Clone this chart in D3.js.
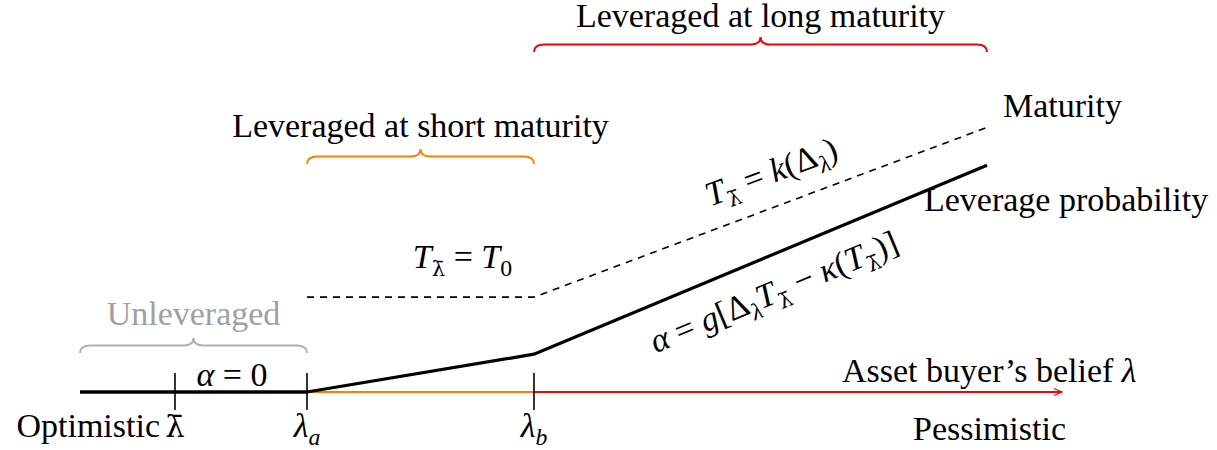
<!DOCTYPE html>
<html><head><meta charset="utf-8"><script src="https://cdn.jsdelivr.net/npm/d3@7"></script></head>
<body style="margin:0">
<svg id="chart" width="1217" height="450"></svg>
<script>
// ── DATA ─────────────────────────────────────────────────────────────────────
// belief axis (x) runs from optimistic (left) to pessimistic (right)
const axisStart = 0;
const tickValues = [0.95, 2.27, 4.54];
const tickLabels = [
  [{ t: 'λ̄', bar: true }],
  [{ t: 'λ', i: true }, { t: 'a', i: true, sub: true }],
  [{ t: 'λ', i: true }, { t: 'b', i: true, sub: true }]
];

// axis segments coloured by regime
const segmentFrom = [0, 2.27, 4.54];
const segmentTo = [2.27, 4.54, 9.82];
const segmentColors = ['#000', '#ff8000', '#ff0000'];

// leverage probability α (solid) and maturity T (dashed)
const leverageX = [0, 2.27, 4.54, 9.07];
const leverageY = [0, 0, 0.10, 0.60];
const maturityX = [2.27, 4.54, 9.07];
const maturityY = [0.251, 0.251, 0.70];

// regimes shown with braces
const regimeNames = ['Unleveraged', 'Leveraged at short maturity', 'Leveraged at long maturity'];
const regimeFrom = [0, 2.27, 4.54];
const regimeTo = [2.27, 4.54, 9.07];
const regimeColors = ['#b0b0b0', '#ff8000', '#ff0000'];

// ── SETUP ────────────────────────────────────────────────────────────────────
const svg = d3.select('#chart');
const FONT = '"Liberation Serif"';
const BAR_FONT = '"DejaVu Serif"';
const FS = 34;

const x = d3.scaleLinear().domain([0, 9.8]).range([80, 1060]);
const y = d3.scaleLinear().domain([0, 1]).range([392, 14]);

// writes a little math expression as tspans (italic, subscripts, barred lambda)
function mathText(sel, parts) {
  sel.attr('font-size', FS).style('font-family', FONT);
  let shift = 0;
  parts.forEach(p => {
    const target = p.sub ? 8 : 0;
    const ts = sel.append('tspan');
    if (target - shift !== 0) ts.attr('dy', target - shift);
    if (p.sub || p.bar) ts.attr('font-size', p.bar ? (p.sub ? FS * 0.62 : FS * 0.9) : FS * 0.7);
    if (p.bar) ts.style('font-family', BAR_FONT);
    if (p.i) ts.style('font-style', 'italic');
    ts.text(p.t);
    shift = target;
  });
  return sel;
}

// curly brace pointing up, from px x0 to x1 with ends at py
function bracePath(x0, x1, py) {
  const a = 15, h = a / 2, r = 10, m = (x0 + x1) / 2;
  return `M${x0},${py} Q${x0},${py - h} ${x0 + r},${py - h}` +
    ` L${m - r},${py - h} Q${m},${py - h} ${m},${py - a}` +
    ` Q${m},${py - h} ${m + r},${py - h}` +
    ` L${x1 - r},${py - h} Q${x1},${py - h} ${x1},${py}`;
}

// ── AXIS ─────────────────────────────────────────────────────────────────────
svg.append('defs').append('marker')
  .attr('id', 'arrow').attr('viewBox', '0 0 10 10')
  .attr('refX', 9).attr('refY', 5)
  .attr('markerWidth', 5).attr('markerHeight', 5)
  .attr('markerUnits', 'strokeWidth').attr('orient', 'auto')
  .append('path').attr('d', 'M1,1.5 L9,5 L1,8.5')
  .attr('fill', 'none').attr('stroke', '#ff0000').attr('stroke-width', 1.1);

svg.append('g').selectAll('line')
  .data(segmentFrom)
  .join('line')
  .attr('x1', d => x(d))
  .attr('x2', (d, i) => x(segmentTo[i]))
  .attr('y1', y(0)).attr('y2', y(0))
  .attr('stroke', (d, i) => segmentColors[i])
  .attr('stroke-width', (d, i) => i === 0 ? 3 : 2)
  .attr('marker-end', (d, i) => i === 2 ? 'url(#arrow)' : null);

// ── CURVES ───────────────────────────────────────────────────────────────────
const line = d3.line().x(d => x(d[0])).y(d => y(d[1]));

svg.append('path')
  .attr('d', line(maturityX.map((v, i) => [v, maturityY[i]])))
  .attr('fill', 'none').attr('stroke', '#000')
  .attr('stroke-width', 1.6).attr('stroke-dasharray', '7,6');

svg.append('path')
  .attr('d', line(leverageX.map((v, i) => [v, leverageY[i]])))
  .attr('fill', 'none').attr('stroke', '#000')
  .attr('stroke-width', 3.2).attr('stroke-linejoin', 'miter');

// ticks
svg.append('g').selectAll('line')
  .data(tickValues)
  .join('line')
  .attr('x1', d => x(d)).attr('x2', d => x(d))
  .attr('y1', y(0) - 19).attr('y2', y(0) + 18)
  .attr('stroke', '#000').attr('stroke-width', 1.6);

svg.append('g').selectAll('text')
  .data(tickValues)
  .join('text')
  .attr('x', d => x(d)).attr('y', 437)
  .attr('text-anchor', 'middle')
  .each(function(d, i) { mathText(d3.select(this), tickLabels[i]); });

// ── BRACES ───────────────────────────────────────────────────────────────────
const braceY = [353, 164, 52];
const braceLabelY = [325, 137, 27];

regimeNames.forEach((name, i) => {
  const x0 = x(regimeFrom[i]), x1 = x(regimeTo[i]);
  svg.append('path')
    .attr('d', bracePath(x0, x1, braceY[i]))
    .attr('fill', 'none').attr('stroke', regimeColors[i])
    .attr('stroke-width', 2);
  const t = svg.append('text')
    .attr('x', (x0 + x1) / 2).attr('y', braceLabelY[i])
    .attr('text-anchor', 'middle')
    .attr('fill', i === 0 ? '#a0a0a0' : '#000');
  mathText(t, [{ t: name }]);
});

// ── LABELS ───────────────────────────────────────────────────────────────────
function label(px, py, anchor, parts) {
  const t = svg.append('text').attr('x', px).attr('y', py).attr('text-anchor', anchor);
  mathText(t, parts);
  return t;
}

label(x(axisStart) + 80, 437, 'end', [{ t: 'Optimistic' }]);
label(913, 440, 'start', [{ t: 'Pessimistic' }]);
label(842, 382, 'start', [{ t: 'Asset buyer’s belief ' }, { t: 'λ', i: true }]);
label(x(maturityX[2]) + 16, 117, 'start', [{ t: 'Maturity' }]);
label(x(leverageX[3]) - 63, 211, 'start', [{ t: 'Leverage probability' }]);

label((x(tickValues[0]) + x(tickValues[1])) / 2 - 9, 386, 'middle',
  [{ t: 'α', i: true }, { t: ' = 0' }]);
label((x(maturityX[0]) + x(maturityX[1])) / 2 + 42, 268, 'middle',
  [{ t: 'T', i: true }, { t: 'λ̄', bar: true, sub: true }, { t: ' = ' }, { t: 'T', i: true }, { t: '0', sub: true }]);

// rotated labels following the sloped segments
function slopedLabel(xs, ys, offset, along, parts) {
  const p0 = [x(xs[0]), y(ys[0])], p1 = [x(xs[1]), y(ys[1])];
  const ang = Math.atan2(p1[1] - p0[1], p1[0] - p0[0]) * 180 / Math.PI;
  const cx = p0[0] + (p1[0] - p0[0]) * along, cy = p0[1] + (p1[1] - p0[1]) * along;
  const t = svg.append('text')
    .attr('transform', `translate(${cx},${cy}) rotate(${ang})`)
    .attr('y', offset).attr('text-anchor', 'middle');
  mathText(t, parts);
}

slopedLabel(maturityX.slice(1), maturityY.slice(1), -23, 0.55,
  [{ t: 'T', i: true }, { t: 'λ̄', bar: true, sub: true }, { t: ' = ' }, { t: 'k', i: true }, { t: '(Δ' },
   { t: 'λ', i: true, sub: true }, { t: ')' }]);
slopedLabel(leverageX.slice(2), leverageY.slice(2), 46, 0.5,
  [{ t: 'α', i: true }, { t: ' = ' }, { t: 'g', i: true }, { t: '[Δ' }, { t: 'λ', i: true, sub: true },
   { t: 'T', i: true }, { t: 'λ̄', bar: true, sub: true }, { t: ' − ' }, { t: 'κ', i: true }, { t: '(' },
   { t: 'T', i: true }, { t: 'λ̄', bar: true, sub: true }, { t: ')]' }]);
</script>
</body>
</html>
